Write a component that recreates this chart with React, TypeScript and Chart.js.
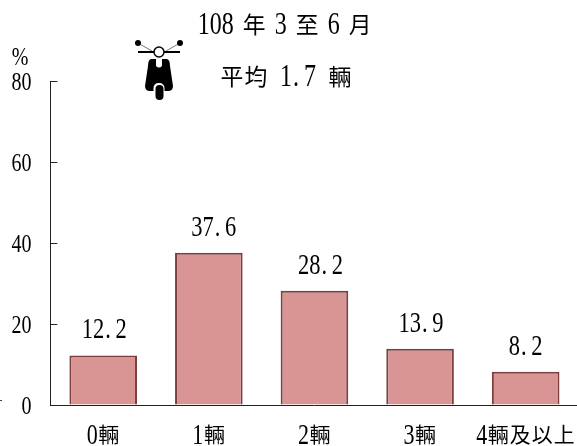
import React, { useEffect, useRef } from "react";
import { Chart, registerables } from "chart.js";

Chart.register(...registerables);

const categories = ["0輛", "1輛", "2輛", "3輛", "4輛及以上"];
const shares = [12.2, 37.6, 28.2, 13.9, 8.2];
const yTicks = [0, 20, 40, 60, 80];
const titleLines = ["108 年 3 至 6 月", "平均 1.7 輛"];
const unitLabel = "%";
const labelNudges = [1, 5, 6, 1, 0];

const LATIN = '"Liberation Serif", serif';
const CJK = '"Noto Sans CJK TC", sans-serif';

function isHalf(c: string) {
  return c.charCodeAt(0) < 256;
}

// Half/full-width grid text like the reference's Ming face: narrow, tall digits.
function gridText(ctx: CanvasRenderingContext2D, text: string, cx: number, cy: number, em: number, align = "center", gap = 0) {
  const chars = Array.from(text);
  const width = chars.reduce((w, c) => w + (isHalf(c) ? (c === " " ? em / 2 + gap : em / 2) : em), 0);
  let x = align === "right" ? cx - width : cx - width / 2;
  ctx.save();
  ctx.fillStyle = "#000";
  ctx.textBaseline = "alphabetic";
  for (const c of chars) {
    if (isHalf(c)) {
      if (c !== " ") {
        const fs = em * 1.3;
        ctx.save();
        ctx.font = `${fs}px ${LATIN}`;
        ctx.textAlign = c === "." ? "left" : "center";
        ctx.translate(c === "." ? x + 1 : x + em / 4, cy + fs * 0.335);
        ctx.scale(0.77, 1);
        ctx.fillText(c, 0, 0);
        ctx.restore();
      }
      x += c === " " ? em / 2 + gap : em / 2;
    } else {
      ctx.font = `${em * 0.95}px ${CJK}`;
      ctx.textAlign = "center";
      ctx.textBaseline = "middle";
      ctx.fillText(c, x + em / 2, cy);
      ctx.textBaseline = "alphabetic";
      x += em;
    }
  }
  ctx.restore();
}

function drawScooter(ctx: CanvasRenderingContext2D) {
  ctx.save();
  ctx.lineWidth = 0.8;
  ctx.strokeStyle = "#555";
  ctx.beginPath();
  ctx.moveTo(138, 43);
  ctx.lineTo(152, 51);
  ctx.moveTo(180, 43);
  ctx.lineTo(166, 51);
  ctx.stroke();
  ctx.fillStyle = "#000";
  ctx.beginPath();
  ctx.arc(138, 43, 3, 0, Math.PI * 2);
  ctx.arc(180, 43, 3, 0, Math.PI * 2);
  ctx.fill();
  ctx.strokeStyle = "#000";
  ctx.lineWidth = 2;
  ctx.beginPath();
  ctx.moveTo(138, 52);
  ctx.lineTo(180, 52);
  ctx.stroke();
  ctx.beginPath();
  ctx.arc(159, 52, 5, 0, Math.PI * 2);
  ctx.fillStyle = "#fff";
  ctx.fill();
  ctx.lineWidth = 1.5;
  ctx.stroke();
  ctx.fillStyle = "#000";
  ctx.beginPath();
  ctx.moveTo(151, 59);
  ctx.lineTo(156, 59);
  ctx.lineTo(156, 66);
  ctx.quadraticCurveTo(159, 69, 162, 66);
  ctx.lineTo(162, 59);
  ctx.lineTo(167, 59);
  ctx.quadraticCurveTo(170, 60, 170, 66);
  ctx.lineTo(173, 86);
  ctx.quadraticCurveTo(173, 91, 168, 91);
  ctx.lineTo(150, 91);
  ctx.quadraticCurveTo(145, 91, 145, 86);
  ctx.lineTo(148, 66);
  ctx.quadraticCurveTo(148, 60, 151, 59);
  ctx.fill();
  ctx.fillStyle = "#fff";
  ctx.beginPath();
  ctx.roundRect(153.5, 83, 11, 14, 5);
  ctx.fill();
  ctx.fillStyle = "#000";
  ctx.beginPath();
  ctx.roundRect(155.5, 85, 8, 15, 4);
  ctx.fill();
  ctx.restore();
}

const overlay = {
  id: "overlay",
  afterDraw(chart: any) {
    const ctx: CanvasRenderingContext2D = chart.ctx;
    gridText(ctx, titleLines[0], 285, 24, 24, "center", -3.5);
    gridText(ctx, titleLines[1], 286, 76, 24);
    gridText(ctx, unitLabel, 20, 56, 20);
    const meta = chart.getDatasetMeta(0);
    meta.data.forEach((bar: any, i: number) => {
      gridText(ctx, shares[i].toFixed(1), bar.x + labelNudges[i], bar.y - 27, 22.5);
    });
    const y = chart.scales.y;
    y.ticks.forEach((t: any, i: number) => {
      gridText(ctx, String(t.value), 31.5, y.getPixelForTick(i), 20, "right");
    });
    const x = chart.scales.x;
    categories.forEach((c, i) => {
      gridText(ctx, c, x.getPixelForTick(i), 434, 22);
    });
    drawScooter(ctx);
    ctx.fillStyle = "#444";
    ctx.fillRect(0, 400, 2, 1);
  },
};

export default function App() {
  const ref = useRef<HTMLCanvasElement>(null);
  useEffect(() => {
    const chart = new Chart(ref.current!, {
      type: "bar",
      data: {
        labels: categories,
        datasets: [
          {
            data: shares,
            backgroundColor: "#d99594",
            borderColor: "#7b3f3f",
            borderWidth: 2,
            categoryPercentage: 0.64,
            barPercentage: 1,
          },
        ],
      },
      plugins: [overlay],
      options: {
        responsive: false,
        animation: false,
        layout: { padding: { top: 81, right: 0.5, left: 0, bottom: 0 } },
        plugins: { legend: { display: false }, tooltip: { enabled: false }, title: { display: false } },
        scales: {
          x: {
            grid: { display: false, drawTicks: false },
            border: { color: "#222", width: 1 },
            ticks: { color: "transparent", font: { size: 20, family: CJK }, padding: 18, maxRotation: 0, autoSkip: false },
            afterFit(s: any) {
              s.height = 41;
              s.paddingLeft = 0;
              s.paddingRight = 0;
            },
          },
          y: {
            min: 0,
            max: 80,
            afterBuildTicks(s: any) {
              s.ticks = yTicks.map((value) => ({ value }));
            },
            grid: { drawOnChartArea: false, color: "#222", tickLength: -7 },
            border: { color: "#222", width: 1 },
            ticks: { color: "transparent", font: { size: 20, family: LATIN }, padding: 18 },
            afterFit(s: any) {
              s.width = 50.4;
              s.paddingTop = 0;
              s.paddingBottom = 0;
            },
          },
        },
      },
    });
    return () => chart.destroy();
  }, []);
  return (
    <div style={{ position: "absolute", left: 0, top: 0, width: 577, height: 446, overflow: "hidden" }}>
      <canvas ref={ref} width={579} height={446} style={{ display: "block" }} />
    </div>
  );
}
